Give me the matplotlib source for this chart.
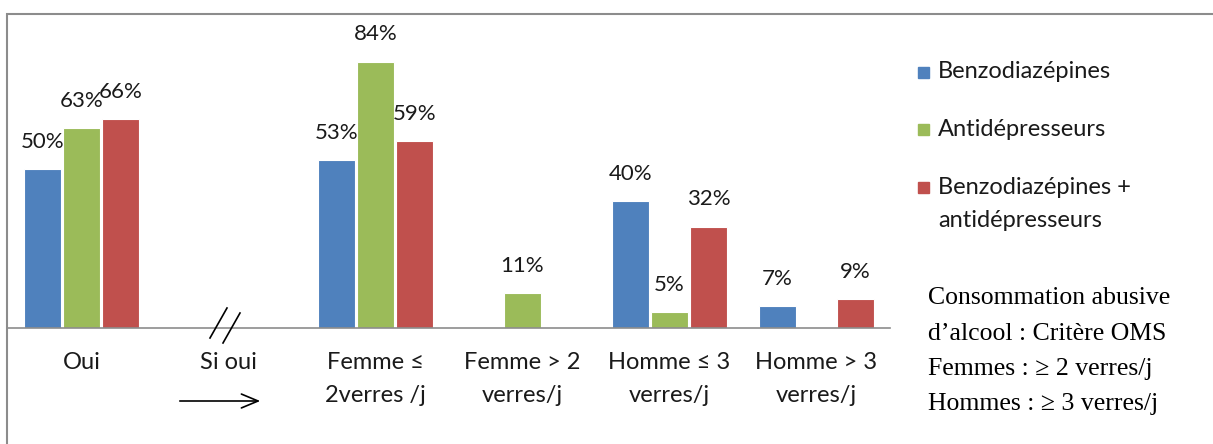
import matplotlib.pyplot as plt
from matplotlib.patches import Rectangle, FancyArrowPatch
import numpy as np

# Données (%)
categories = ["Oui", "Si oui", "Femme \u2264\n2verres /j", "Femme > 2\nverres/j",
              "Homme \u2264 3\nverres/j", "Homme > 3\nverres/j"]
benzo = [50, 0, 53, 0, 40, 7]
antidep = [63, 0, 84, 11, 5, 0]
benzo_antidep = [66, 0, 59, 0, 32, 9]

series = ["Benzodiazépines", "Antidépresseurs", "Benzodiazépines +\nantidépresseurs"]
couleurs = ["#4F81BD", "#9BBB59", "#C0504D"]

W, H = 1213, 444
fig = plt.figure(figsize=(W / 100, H / 100), dpi=100)
plt.rcParams['font.family'] = ['Lato', 'DejaVu Sans']

# axe principal (en pixels -> fraction)
ax = fig.add_axes([8 / W, (H - 328) / H, 882 / W, 314 / H])

x = np.arange(len(categories))
largeur = 0.25
decal = 0.265
for i, (vals, c) in enumerate(zip([benzo, antidep, benzo_antidep], couleurs)):
    pos = x + (i - 1) * decal
    ax.bar(pos, vals, largeur, color=c, edgecolor="white", linewidth=0.8)
    for p, v in zip(pos, vals):
        if v > 0:
            ax.annotate(f"{v}%", (p, v), xytext=(0, 19.5), textcoords="offset points",
                        ha="center", va="center", fontsize=16, color="#1a1a1a")

ax.set_xlim(-0.5, len(categories) - 0.5)
ax.set_ylim(0, 99)
ax.set_yticks([])
ax.set_xticks(x)
ax.set_xticklabels(categories, fontsize=17, linespacing=1.7, color="#1a1a1a")
ax.tick_params(axis="x", length=0, pad=17)
for s in ["top", "right", "left"]:
    ax.spines[s].set_visible(False)
ax.spines["bottom"].set_color("#8c8c8c")
ax.spines["bottom"].set_linewidth(1.2)

# cadre extérieur (coupé à droite et en bas)
fig.patches.append(Rectangle((7 / W, -0.1), 1.2, (H - 14) / H + 0.1, transform=fig.transFigure,
                             fill=False, edgecolor="#8c8c8c", linewidth=1.5))

# marque de coupure "//" et flèche sous "Si oui"
def px(xp, yp):
    return (xp / W, (H - yp) / H)

for (x0, y0), (x1, y1) in [((227, 308), (210, 338)), ((240, 313), (223, 343))]:
    a, b = px(x0, y0), px(x1, y1)
    fig.add_artist(plt.Line2D([a[0], b[0]], [a[1], b[1]], color="black", linewidth=1.2))

fig.add_artist(FancyArrowPatch(px(177, 401), px(263, 401),
               transform=fig.transFigure, arrowstyle="->,head_length=12,head_width=5",
               color="black", linewidth=1.2))

# légende
leg_y = [72, 129, 187]
for yy, nom, c in zip(leg_y, series, couleurs):
    fig.patches.append(Rectangle(px(918, yy + 6), 11 / W, 11 / H, transform=fig.transFigure,
                                 color=c))
    if "\n" in nom:
        fig.text(938 / W, (H - yy + 10) / H, nom, fontsize=17, va="top",
                 ha="left", linespacing=1.72, color="#1a1a1a")
    else:
        fig.text(938 / W, (H - yy) / H, nom, fontsize=17, va="center",
                 ha="left", color="#1a1a1a")

# note sur le critère OMS
note = ["Consommation abusive", "d\u2019alcool : Crit\u00e8re OMS",
        "Femmes : \u2265 2 verres/j", "Hommes : \u2265 3 verres/j"]
for yy, ligne in zip([298, 334, 369, 404], note):
    fig.text(928 / W, (H - yy) / H, ligne, fontsize=18.5, va="center", ha="left",
             family=["Liberation Serif", "DejaVu Serif"], color="black")

fig.savefig("out.png", dpi=100)
